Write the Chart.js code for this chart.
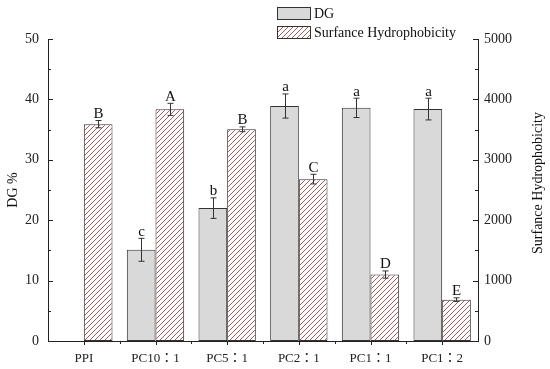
<!DOCTYPE html>
<html>
<head>
  <meta charset="utf-8" />
  <title>DG and Surface Hydrophobicity</title>
  <script src="https://cdn.jsdelivr.net/npm/chart.js"></script>
  <style>
    html, body { margin: 0; padding: 0; background: #fff; }
    #wrap { width: 550px; height: 369px; position: relative; }
  </style>
</head>
<body>
<div id="wrap"><canvas id="chart"></canvas></div>
<script>
const categories = ['PPI', 'PC10\uFF1A1', 'PC5\uFF1A1', 'PC2\uFF1A1', 'PC1\uFF1A1', 'PC1\uFF1A2'];
const dgValues = [null, 15.1, 22.0, 38.9, 38.6, 38.4];
const dgErrors = [0, 1.9, 1.7, 2.0, 1.6, 1.8];
const dgLetters = ['', 'c', 'b', 'a', 'a', 'a'];
const hydroValues = [3590, 3835, 3505, 2680, 1100, 685];
const hydroErrors = [60, 100, 40, 80, 60, 30];
const hydroLetters = ['B', 'A', 'B', 'C', 'D', 'E'];
const dgTicks = [0, 10, 20, 30, 40, 50];
const hydroTicks = [0, 1000, 2000, 3000, 4000, 5000];

const FONT = '"Liberation Serif", "Noto Sans CJK TC", serif';

function hatch(ctx) {
  const c = document.createElement('canvas');
  c.width = 5; c.height = 5;
  const g = c.getContext('2d');
  g.fillStyle = '#ffffff';
  g.fillRect(0, 0, 5, 5);
  g.strokeStyle = '#a65c5c';
  g.lineWidth = 1;
  g.beginPath();
  g.moveTo(-1, 6); g.lineTo(6, -1);
  g.moveTo(-1, 1); g.lineTo(1, -1);
  g.moveTo(4, 6); g.lineTo(6, 4);
  g.stroke();
  return ctx.createPattern(c, 'repeat');
}

const ctx = document.getElementById('chart').getContext('2d');
const hatchFill = hatch(ctx);

// error bars, letters, inward ticks, titles and the stacked legend
const extras = {
  id: 'extras',
  afterDatasetsDraw(chart) {
    const c = chart.ctx;
    const sets = [
      { meta: chart.getDatasetMeta(0), scale: chart.scales.y, vals: dgValues, errs: dgErrors, lets: dgLetters },
      { meta: chart.getDatasetMeta(1), scale: chart.scales.y1, vals: hydroValues, errs: hydroErrors, lets: hydroLetters },
    ];
    c.save();
    c.strokeStyle = '#333';
    c.lineWidth = 1;
    c.fillStyle = '#111';
    c.font = '15px ' + FONT;
    c.textAlign = 'center';
    c.textBaseline = 'bottom';
    sets.forEach(s => {
      s.meta.data.forEach((bar, i) => {
        const v = s.vals[i];
        if (v == null) return;
        const x = Math.round(bar.x) + 0.5;
        const yTop = s.scale.getPixelForValue(v + s.errs[i]);
        const yBot = s.scale.getPixelForValue(v - s.errs[i]);
        c.beginPath();
        c.moveTo(x, yTop); c.lineTo(x, yBot);
        c.moveTo(x - 3, yTop); c.lineTo(x + 3, yTop);
        c.moveTo(x - 3, yBot); c.lineTo(x + 3, yBot);
        c.stroke();
        c.fillText(s.lets[i], x, yTop + 1);
      });
    });
    c.restore();
  },
  afterDraw(chart) {
    const c = chart.ctx;
    const a = chart.chartArea;
    const y = chart.scales.y, y1 = chart.scales.y1, x = chart.scales.x;
    c.save();
    c.strokeStyle = '#222';
    c.lineWidth = 1;
    c.beginPath();
    for (let v = 0; v <= 50; v += 5) {
      const py = Math.round(y.getPixelForValue(v)) + 0.5;
      const len = v % 10 === 0 ? 5 : 3;
      c.moveTo(a.left, py); c.lineTo(a.left + len, py);
    }
    for (let v = 0; v <= 5000; v += 500) {
      const py = Math.round(y1.getPixelForValue(v)) + 0.5;
      const len = v % 1000 === 0 ? 5 : 3;
      c.moveTo(a.right, py); c.lineTo(a.right - len, py);
    }
    for (let i = 0; i < categories.length; i++) {
      const px = Math.round(x.getPixelForValue(i)) + 0.5;
      c.moveTo(px, a.bottom); c.lineTo(px, a.bottom + 4);
      if (i < categories.length - 1) {
        const mx = Math.round((x.getPixelForValue(i) + x.getPixelForValue(i + 1)) / 2) + 0.5;
        c.moveTo(mx, a.bottom); c.lineTo(mx, a.bottom + 3);
      }
    }
    c.stroke();

    // axis titles
    c.fillStyle = '#111';
    c.font = '14px ' + FONT;
    c.textAlign = 'center';
    c.textBaseline = 'middle';
    const midY = (a.top + a.bottom) / 2;
    c.save();
    c.translate(13, midY);
    c.rotate(-Math.PI / 2);
    c.fillText('DG %', 0, 0);
    c.restore();
    c.save();
    c.translate(538, midY - 7);
    c.rotate(-Math.PI / 2);
    c.fillText('Surfance Hydrophobicity', 0, 0);
    c.restore();

    // legend
    c.lineWidth = 1;
    c.strokeStyle = '#333';
    c.fillStyle = '#d9d9d9';
    c.fillRect(277.5, 7.5, 33, 12);
    c.strokeRect(277.5, 7.5, 33, 12);
    c.fillStyle = hatchFill;
    c.fillRect(277.5, 26.5, 33, 12);
    c.strokeRect(277.5, 26.5, 33, 12);
    c.fillStyle = '#111';
    c.textAlign = 'left';
    c.fillText(chart.data.datasets[0].label, 314, 14);
    c.fillText(chart.data.datasets[1].label, 314, 33);
    c.restore();
  }
};

new Chart(ctx, {
  type: 'bar',
  data: {
    labels: categories,
    datasets: [
      {
        label: 'DG',
        data: dgValues,
        yAxisID: 'y',
        backgroundColor: '#d9d9d9',
        borderColor: '#333',
        borderWidth: 1,
        borderSkipped: false,
      },
      {
        label: 'Surfance Hydrophobicity',
        data: hydroValues,
        yAxisID: 'y1',
        backgroundColor: hatchFill,
        borderColor: '#333',
        borderWidth: 1,
        borderSkipped: false,
      },
    ],
  },
  options: {
    responsive: true,
    maintainAspectRatio: false,
    animation: false,
    categoryPercentage: 0.8,
    barPercentage: 1.0,
    layout: { padding: { top: 39, left: 0, right: 0, bottom: 0 } },
    plugins: { legend: { display: false }, tooltip: { enabled: false } },
    scales: {
      x: {
        grid: { display: false, drawTicks: false },
        border: { display: true, color: '#222', width: 1 },
        ticks: { color: '#222', font: { family: FONT, size: 13 }, padding: 10, maxRotation: 0 },
        afterFit(s) { s.height = 28; },
      },
      y: {
        position: 'left',
        min: 0,
        max: 50,
        grid: { display: false, drawTicks: false },
        border: { display: true, color: '#222', width: 1 },
        afterBuildTicks(s) { s.ticks = dgTicks.map(v => ({ value: v })); },
        ticks: { color: '#222', font: { family: FONT, size: 14 }, padding: 9 },
        afterFit(s) { s.width = 48; },
      },
      y1: {
        position: 'right',
        min: 0,
        max: 5000,
        grid: { display: false, drawTicks: false },
        border: { display: true, color: '#222', width: 1 },
        afterBuildTicks(s) { s.ticks = hydroTicks.map(v => ({ value: v })); },
        ticks: { color: '#222', font: { family: FONT, size: 14 }, padding: 6, callback: v => String(v) },
        afterFit(s) { s.width = 72; },
      },
    },
  },
  plugins: [extras],
});
</script>
</body>
</html>
